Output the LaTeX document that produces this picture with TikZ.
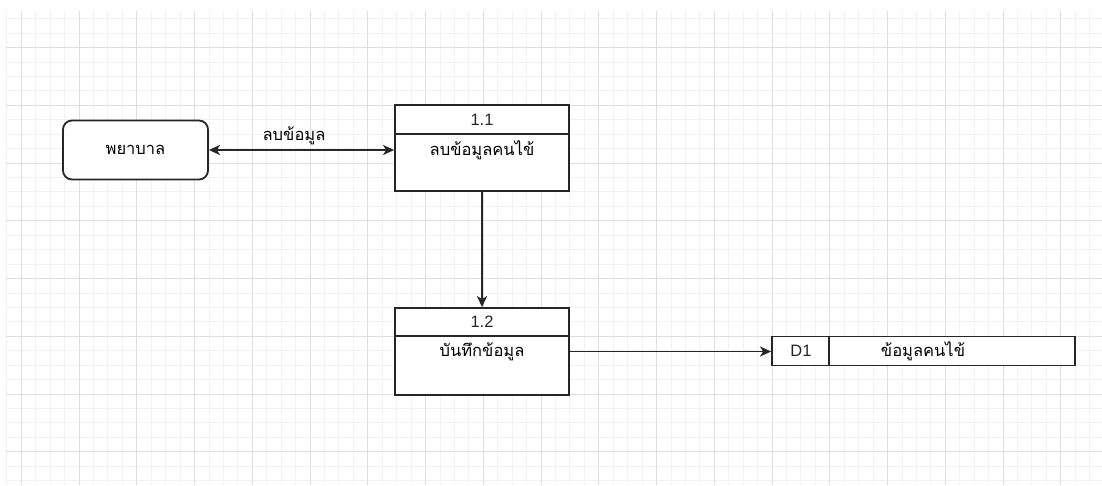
\documentclass[tikz,border=0pt]{standalone}
\usepackage{fontspec}
\setmainfont{Liberation Sans}
\newfontfamily\thai[Script=Thai]{Loma}
\usetikzlibrary{arrows.meta}
\tikzset{
  minorgrid/.style={draw=black!5, line width=0.8pt},
  majorgrid/.style={draw=black!13, line width=1pt},
  boxline/.style={draw=black!85, line width=1.8pt, fill=white},
  flow/.style={draw=black!85, line width=1.8pt},
  tip/.style={-{Stealth[length=11pt,width=10pt,inset=3pt]}},
  lat/.style={font=\fontsize{16.5}{18}\selectfont, text=black!85, inner sep=0pt},
  th/.style={font=\thai\fontsize{16.5}{18}\selectfont, inner sep=0pt},
}
\begin{document}
\begin{tikzpicture}[x=1pt,y=-1pt]
\useasboundingbox (0,0) rectangle (1102,485);
\fill[white] (0,0) rectangle (1102,485);
% grid
\begin{scope}
\clip (6,11) rectangle (1102,485);
\foreach \i in {-1,...,75} \draw[minorgrid] ({21.25+\i*14.4375},11) -- ++(0,474);
\foreach \j in {-3,...,30} \draw[minorgrid] (6,{47.5+\j*14.4375}) -- ++(1096,0);
\foreach \k in {0,...,18} \draw[majorgrid] ({21.25+\k*57.75},11) -- ++(0,474);
\foreach \k in {0,...,7} \draw[majorgrid] (6,{47.5+\k*57.75}) -- ++(1096,0);
\end{scope}
% nurse
\node[boxline, rounded corners=9pt, minimum width=145pt, minimum height=59pt] (nurse) at (135.5,150) {};
\node[th] (nurset) at (nurse.center) {พยาบาล};
% process 1.1
\node[boxline, minimum width=174pt, minimum height=86pt] (p11) at (482,148) {};
\draw[flow] (p11.west |- 0,134) coordinate (p11hl) -- (p11.east |- 0,134) coordinate (p11hr);
\node[lat] (p11n) at (482,119.5) {1.1};
\node[th] (p11t) at (482,150) {ลบข้อมูลคนไข้};
% process 1.2
\node[boxline, minimum width=174pt, minimum height=87pt] (p12) at (482,351.5) {};
\draw[flow] (p12.west |- 0,336) coordinate (p12hl) -- (p12.east |- 0,336) coordinate (p12hr);
\node[lat] (p12n) at (482,322) {1.2};
\node[th] (p12t) at (482,352) {บันทึกข้อมูล};
% data store
\node[boxline, minimum width=303pt, minimum height=29pt] (d1) at (923.5,351) {};
\draw[flow] (829,336.5) coordinate (d1a) -- (829,365.5) coordinate (d1b);
\node[lat] (d1n) at (801,351) {D1};
\node[th] (d1t) at (923,351) {ข้อมูลคนไข้};
% connectors
\draw[flow, {Stealth[length=11pt,width=10pt,inset=3pt]}-{Stealth[length=11pt,width=10pt,inset=3pt]}] (nurse.east) -- (nurse.east -| p11.west);
\node[th] (lbl) at (294,136) {ลบข้อมูล};
\draw[flow, tip] (p11.south) -- (p12.north);
\draw[flow, tip] (p12.east) -- (p12.east -| d1.west);
\end{tikzpicture}
\end{document}
